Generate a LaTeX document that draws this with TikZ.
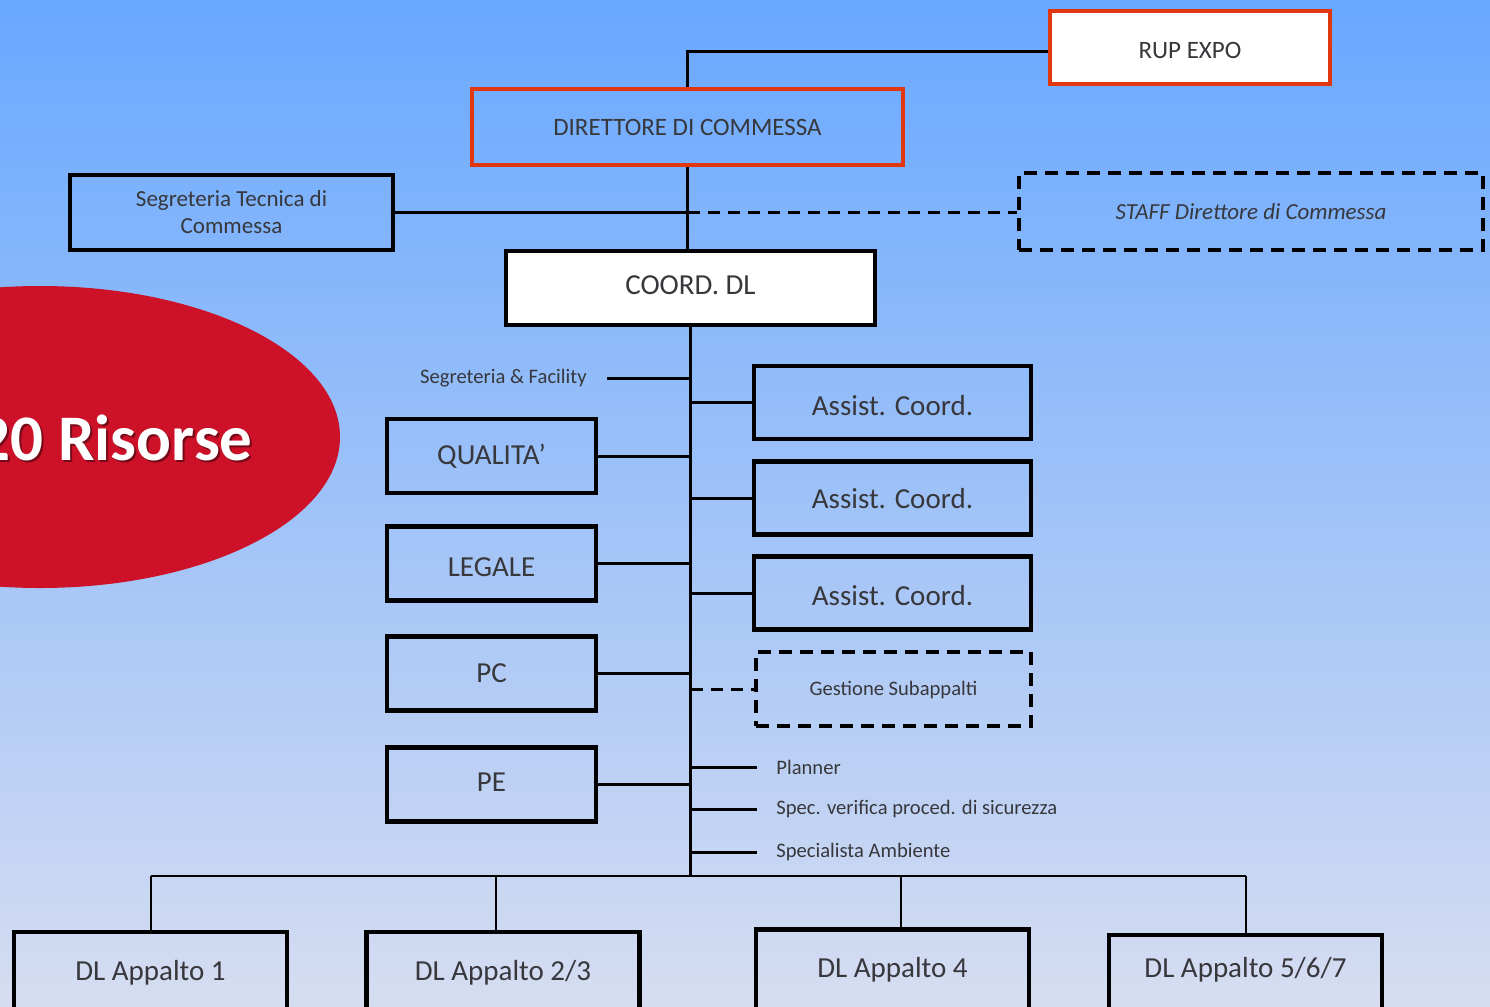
\documentclass[tikz,border=0pt]{standalone}
\usepackage{fontspec}
\setmainfont{Carlito}
\usetikzlibrary{positioning}

\definecolor{bgtop}{RGB}{104,168,255}
\definecolor{bgmid}{RGB}{152,198,250}
\definecolor{bgbot}{RGB}{214,221,241}
\definecolor{txtgray}{RGB}{55,55,60}
\definecolor{rupred}{RGB}{225,55,15}
\definecolor{badgered}{RGB}{204,17,40}

\begin{document}
\begin{tikzpicture}[
    x=0.5pt, y=-0.5pt,
    box/.style={draw, line width=2.2pt, align=center, text=txtgray, inner sep=0pt,
      font=\fontsize{14.5}{17}\selectfont, minimum width=138.5pt, minimum height=36.5pt},
    redbox/.style={box, draw=rupred, font=\fontsize{12.5}{15}\selectfont},
    dbox/.style={box, dash pattern=on 6.5pt off 4pt},
    small/.style={text=txtgray, inner sep=0pt, font=\fontsize{10.3}{12}\selectfont},
    ln/.style={line width=1.5pt},
    dln/.style={ln, dash pattern=on 6pt off 4pt},
    bus/.style={line width=1pt}
  ]
  % background
  \path[use as bounding box] (0,0) rectangle (1490,1007);
  \clip (0,0) rectangle (1490,1007);
  \shade[top color=bgtop, middle color=bgmid, bottom color=bgbot] (0,0) rectangle (1490,1007);

  % red badge
  \fill[badgered] (40,437) ellipse [x radius=150pt, y radius=75.5pt];
  \node[font=\fontsize{32.5}{36}\selectfont\bfseries, text=black!70!badgered, opacity=0.6, anchor=base east, inner sep=0pt] (risshadow) at (255,462) {20 Risorse};
  \node[font=\fontsize{32.5}{36}\selectfont\bfseries, text=white, anchor=base east, inner sep=0pt] (risorse) at (253,460) {20 Risorse};

  % top
  \node[redbox, fill=white, minimum width=140pt, minimum height=36.5pt, text height=11.5pt] (rup) at (1190,47.5) {RUP EXPO};
  \node[redbox, minimum width=215.5pt, minimum height=38pt] (dir) at (687.5,127) {DIRETTORE DI COMMESSA};
  \node[box, font=\fontsize{11.5}{13.5}\selectfont, minimum width=161.5pt, minimum height=37.5pt] (segtec) at (231.5,212.5) {Segreteria Tecnica di\\Commessa};
  \node[dbox, font=\fontsize{11.5}{13.5}\selectfont\itshape, minimum width=232pt, minimum height=38.5pt] (staff) at (1251,211.5) {STAFF Direttore di Commessa};
  \node[box, fill=white, minimum width=184.5pt, minimum height=37pt, text depth=3pt] (coord) at (690.5,288) {COORD. DL};
  \coordinate (junc) at (dir.south |- segtec.east);
  \coordinate (busy) at (0,876);

  \draw[ln] (dir.north) |- ([yshift=-1.75pt]rup.west);
  \draw[ln] (dir.south) -- (dir.south |- coord.north);
  \draw[ln] (segtec.east) -- (junc);
  \draw[dln] (junc) -- (junc -| staff.west);
  \draw[ln] (coord.south) -- (coord.south |- busy);

  % left column
  \node[small, anchor=east] (segfac) at (587,378) {Segreteria \& Facility};
  \node[box, minimum width=104.5pt, minimum height=37pt] (qual) at (491.5,456) {QUALITA’};
  \node[box, minimum width=104.5pt, minimum height=37pt, text height=13pt] (leg) at (491.5,563.5) {LEGALE};
  \node[box, minimum width=104.5pt, minimum height=37pt] (pc) at (491.5,673.5) {PC};
  \node[box, minimum width=104.5pt, minimum height=37pt, text depth=2.5pt] (pe) at (491.5,784.5) {PE};
  \draw[ln] ([xshift=10pt]segfac.east) -- (segfac.east -| coord.south);
  \draw[ln] (qual.east) -- (qual.east -| coord.south);
  \draw[ln] (leg.east) -- (leg.east -| coord.south);
  \draw[ln] (pc.east) -- (pc.east -| coord.south);
  \draw[ln] (pe.east) -- (pe.east -| coord.south);

  % right column
  \node[box, text height=13pt] (ac1) at (892.5,402.5) {Assist. Coord.};
  \node[box, text height=11pt] (ac2) at (892.5,498) {Assist. Coord.};
  \node[box, text height=13pt] (ac3) at (892.5,593) {Assist. Coord.};
  \node[dbox, font=\fontsize{10.3}{12}\selectfont, minimum width=137.5pt, minimum height=37pt, text height=8.5pt] (gest) at (893.5,689) {Gestione Subappalti};
  \node[small, anchor=west] (plan) at (776,767) {Planner};
  \node[small, anchor=west] (spec) at (776,809) {Spec. verifica proced. di sicurezza};
  \node[small, anchor=west] (amb) at (776,852) {Specialista Ambiente};
  \draw[ln] (ac1.west -| coord.south) -- (ac1.west);
  \draw[ln] (ac2.west -| coord.south) -- (ac2.west);
  \draw[ln] (ac3.west -| coord.south) -- (ac3.west);
  \draw[dln] (gest.west -| coord.south) -- (gest.west);
  \draw[ln] (plan.west -| coord.south) -- ([xshift=-9.5pt]plan.west);
  \draw[ln] (spec.west -| coord.south) -- ([xshift=-9.5pt]spec.west);
  \draw[ln] (amb.west -| coord.south) -- ([xshift=-9.5pt]amb.west);

  % bottom row
  \node[box, minimum width=136.5pt, minimum height=40.5pt] (dl1) at (150.5,972.5) {DL Appalto 1};
  \node[box, minimum width=136.5pt, minimum height=40.5pt] (dl23) at (503,972.5) {DL Appalto 2/3};
  \node[box, minimum width=136.5pt, minimum height=40.5pt] (dl4) at (892.5,970) {DL Appalto 4};
  \node[box, minimum width=136.5pt, minimum height=40.5pt, text depth=8pt] (dl567) at (1245.5,975.5) {DL Appalto 5/6/7};
  \draw[bus] (dl1.north |- busy) -- (dl567.north |- busy);
  \draw[bus] (dl1.north) -- (dl1.north |- busy);
  \draw[bus] ([xshift=-3.5pt]dl23.north) -- ([xshift=-3.5pt]dl23.north |- busy);
  \draw[bus] ([xshift=4.25pt]dl4.north) -- ([xshift=4.25pt]dl4.north |- busy);
  \draw[bus] (dl567.north) -- (dl567.north |- busy);
\end{tikzpicture}
\end{document}
